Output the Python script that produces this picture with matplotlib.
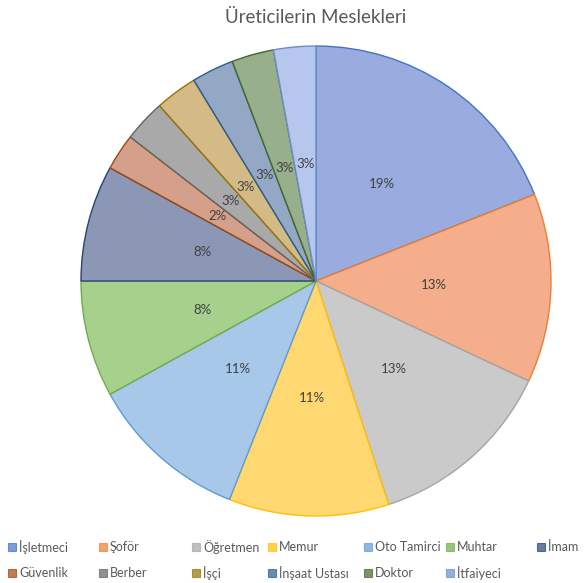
import matplotlib
matplotlib.use("Agg")
import matplotlib.pyplot as plt
from matplotlib.patches import Rectangle
import numpy as np

title = "Üreticilerin Meslekleri"
categories = ["İşletmeci", "Şoför", "Öğretmen", "Memur", "Oto Tamirci", "Muhtar", "İmam",
              "Güvenlik", "Berber", "İşçi", "İnşaat Ustası", "Doktor", "İtfaiyeci"]
values = [19, 13, 13, 11, 11, 8, 8, 2.5, 2.9, 2.9, 2.9, 2.9, 2.9]

fills = ["#9AACDF", "#F5AE8C", "#CACACA", "#FFD872", "#A8C8EA", "#A8D08D", "#8B97B5",
         "#D5A08A", "#A9A9A9", "#D4BA86", "#94A8C6", "#98AF8B", "#B7C6EC"]
edges = ["#4472C4", "#ED7D31", "#A5A5A5", "#FFC000", "#5B9BD5", "#70AD47", "#264478",
         "#9E480E", "#636363", "#997300", "#255E91", "#43682B", "#698ED0"]

plt.rcParams['font.family'] = ['Lato', 'DejaVu Sans']

W, H = 586, 583
fig = plt.figure(figsize=(W / 100, H / 100), dpi=100)

cx, cy, r = 316, 281, 235
ax = fig.add_axes([(cx - r) / W, 1 - (cy + r) / H, 2 * r / W, 2 * r / H])
wedges, texts, autotexts = ax.pie(values, colors=fills, startangle=90, counterclock=False,
                                  radius=1.0, autopct='%.0f%%', pctdistance=0.5,
                                  wedgeprops=dict(linewidth=1.0),
                                  textprops=dict(fontsize=9.5, color='#404040'))
for w, ec in zip(wedges, edges):
    w.set_edgecolor(ec)
ax.set_xlim(-1, 1)
ax.set_ylim(-1, 1)
ax.set_aspect('equal')
ax.axis('off')

fig.text(cx / W, 1 - 17 / H, title, ha='center', va='center', fontsize=13.5, color='#595959')

col_x = [12, 103, 196, 272, 368, 450, 541]
row_y = [547, 573]
for i, (cat, col) in enumerate(zip(categories, edges)):
    row, c = divmod(i, 7)
    x = col_x[c]
    y = row_y[row]
    fig.patches.append(Rectangle(((x - 4) / W, 1 - (y + 4) / H), 8 / W, 8 / H,
                                 transform=fig.transFigure, facecolor=col, alpha=0.7,
                                 edgecolor=col, linewidth=0.8))
    fig.text((x + 7) / W, 1 - y / H, cat, ha='left', va='center', fontsize=9, color='#595959')

fig.savefig("out.png", dpi=100)
